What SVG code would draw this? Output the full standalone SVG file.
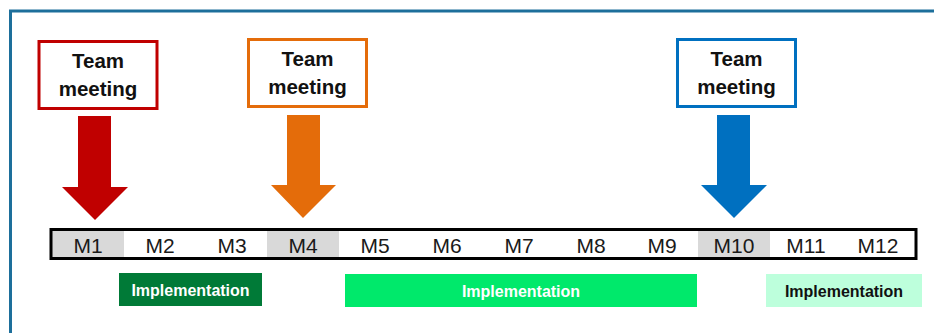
<svg xmlns="http://www.w3.org/2000/svg" width="934" height="333" viewBox="0 0 934 333">
  <style>
    .frame { fill: none; stroke: #1D6F9B; stroke-width: 3; }
    .tm-box { fill: #FFFFFF; stroke-width: 3; }
    .tm-text { font-family: "Liberation Sans", Arial, sans-serif; font-weight: bold; font-size: 20.5px; fill: #111111; text-anchor: middle; }
    .month { font-family: "Liberation Sans", Arial, sans-serif; font-size: 21px; fill: #1A1A1A; text-anchor: middle; }
    .impl-text { font-family: "Liberation Sans", Arial, sans-serif; font-weight: bold; font-size: 16px; text-anchor: middle; }
    .hl { fill: #D9D9D9; }
  </style>

  <rect width="934" height="333" fill="#FFFFFF"/>
  <!-- outer frame: top and left edges -->
  <path class="frame" d="M10.5 345 V11 H940"/>

  <!-- meeting markers -->
  <g id="meeting-m1">
    <rect class="tm-box" x="39" y="41.5" width="118" height="67" stroke="#C00000"/>
    <text class="tm-text" x="98" y="68">Team</text>
    <text class="tm-text" x="98" y="96">meeting</text>
  </g>
  <g id="meeting-m4">
    <rect class="tm-box" x="248.5" y="39.5" width="118" height="67" stroke="#E46C0A"/>
    <text class="tm-text" x="307.5" y="66">Team</text>
    <text class="tm-text" x="307.5" y="94">meeting</text>
  </g>
  <g id="meeting-m10">
    <rect class="tm-box" x="677.5" y="39.5" width="118" height="67" stroke="#0070C0"/>
    <text class="tm-text" x="736.5" y="66">Team</text>
    <text class="tm-text" x="736.5" y="94">meeting</text>
  </g>

  <!-- arrows from meetings down to the timeline -->
  <g id="connectors">
    <polygon fill="#C00000" points="78,116 111,116 111,187 128,187 95,220 62,187 78,187"/>
    <polygon fill="#E46C0A" points="287,115 320,115 320,185 336,185 303,218 271,185 287,185"/>
    <polygon fill="#0070C0" points="717,115 750,115 750,185 767,185 734,218 701,185 717,185"/>
  </g>

  <!-- month timeline -->
  <g id="timeline">
    <rect x="51" y="229.5" width="865" height="29" fill="#FFFFFF"/>
    <rect class="hl" x="52" y="230" width="72" height="28"/>
    <rect class="hl" x="267" y="230" width="72" height="28"/>
    <rect class="hl" x="698" y="230" width="72" height="28"/>
    <rect x="51" y="229.5" width="865" height="29" fill="none" stroke="#000000" stroke-width="3"/>
    <text class="month" x="88" y="252.5">M1</text>
    <text class="month" x="160" y="252.5">M2</text>
    <text class="month" x="232" y="252.5">M3</text>
    <text class="month" x="303" y="252.5">M4</text>
    <text class="month" x="375" y="252.5">M5</text>
    <text class="month" x="447" y="252.5">M6</text>
    <text class="month" x="519" y="252.5">M7</text>
    <text class="month" x="591" y="252.5">M8</text>
    <text class="month" x="662" y="252.5">M9</text>
    <text class="month" x="734" y="252.5">M10</text>
    <text class="month" x="806" y="252.5">M11</text>
    <text class="month" x="878" y="252.5">M12</text>
  </g>

  <!-- implementation phases -->
  <g id="impl-1">
    <rect x="119" y="273" width="143" height="33" fill="#007A37"/>
    <text class="impl-text" x="190.5" y="295.5" fill="#FFFFFF">Implementation</text>
  </g>
  <g id="impl-2">
    <rect x="345" y="274" width="352" height="33" fill="#00E96B"/>
    <text class="impl-text" x="521" y="296.5" fill="#FFFFFF">Implementation</text>
  </g>
  <g id="impl-3">
    <rect x="766" y="274" width="156" height="33" fill="#BDFFDC"/>
    <text class="impl-text" x="844" y="296.5" fill="#111111">Implementation</text>
  </g>
</svg>
